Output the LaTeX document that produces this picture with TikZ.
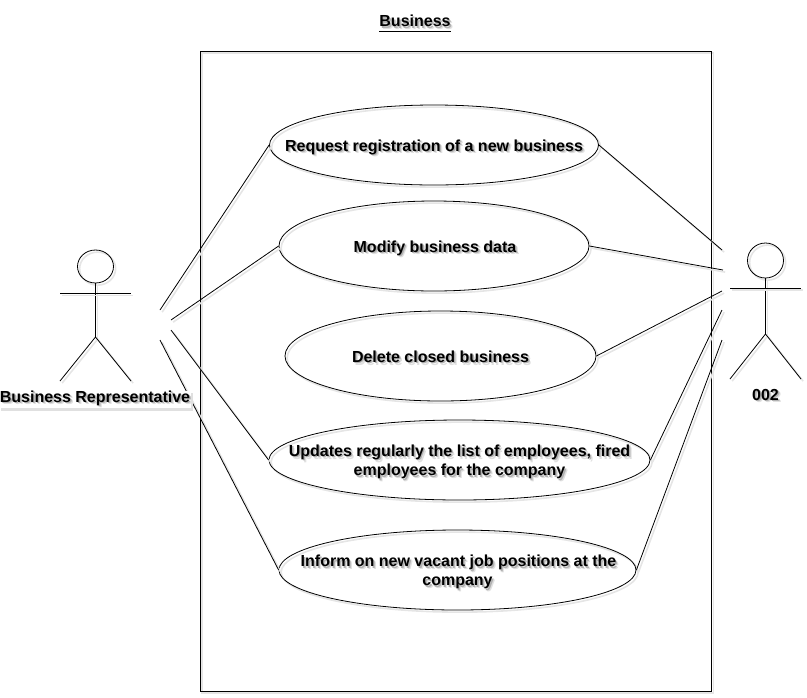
\documentclass[tikz,border=0pt]{standalone}
\usepackage{fontspec}
\setmainfont{Liberation Sans}
\usepackage{xcolor}
\usetikzlibrary{shapes.geometric}

\newcommand{\shtext}[1]{\rlap{\kern2pt\raisebox{-2pt}{\color{black!12}#1}}\rlap{\kern1.1pt\raisebox{-1.1pt}{\color{black!30}#1}}#1}
\newcommand{\ucbox}[1]{\makebox[0pt]{\raisebox{-4.9pt}[0pt][0pt]{\begin{tabular}{@{}c@{}}#1\end{tabular}}}}

\tikzset{
  shline/.style={black,line width=.6pt,preaction={draw=black!10,line width=1.2pt,transform canvas={shift={(1.6pt,-1.6pt)}}}},
  usecase/.style={ellipse,draw,shline,inner sep=0pt,font=\fontsize{12}{14.25}\selectfont\bfseries},
  label/.style={font=\fontsize{12}{14.25}\selectfont\bfseries,inner sep=0pt},
  labelbox/.style={label,fill=white,inner xsep=.5pt,inner ysep=0pt,preaction={fill=black!12,transform canvas={shift={(1.5pt,-1.8pt)}}}},
}

\begin{document}
\begin{tikzpicture}[x=.75pt,y=-.75pt]
    \useasboundingbox (0,0) rectangle (807,697);

    \node[label] (title) at (415,23.5) {\underline{\shtext{Business}}};
    \draw[shline] (200,51) rectangle (711.5,691);

    \node[usecase,minimum width=329pt*.75,minimum height=80pt*.75] (request) at (434,145) {\ucbox{\shtext{Request registration of a new business}}};
    \node[usecase,minimum width=310pt*.75,minimum height=90pt*.75] (modify) at (434,246) {\ucbox{\hspace{1.5pt}\shtext{Modify business data}}};
    \node[usecase,minimum width=311pt*.75,minimum height=90pt*.75] (delete) at (440.5,356) {\ucbox{\shtext{Delete closed business}}};
    \node[usecase,minimum width=381pt*.75,minimum height=80pt*.75] (updates) at (459.5,460) {\ucbox{\shtext{Updates regularly the list of employees, fired}\\\shtext{employees for the company}}};
    \node[usecase,minimum width=357pt*.75,minimum height=80pt*.75] (inform) at (457.5,570) {\ucbox{\hspace{1.5pt}\shtext{Inform on new vacant job positions at the}\\\shtext{company}}};

    % left actor
    \node[draw,shline,ellipse,minimum width=36pt*.75,minimum height=33pt*.75,inner sep=0pt] (headL) at (95.5,266.5) {};
    \coordinate (armLa) at (60,293.5);
    \coordinate (armLb) at (131,293.5);
    \coordinate (hipL) at (95.5,337);
    \coordinate (footLa) at (60,381);
    \coordinate (footLb) at (131,381);
    \draw[shline] (headL.south) -- (hipL);
    \draw[shline] (armLa) -- (armLb);
    \draw[shline] (footLa) -- (hipL) -- (footLb);

    % right actor
    \node[draw,shline,ellipse,minimum width=36pt*.75,minimum height=35pt*.75,inner sep=0pt] (headR) at (765.5,260.5) {};
    \coordinate (armRa) at (730,288);
    \coordinate (armRb) at (801,288);
    \coordinate (hipR) at (765.5,334);
    \coordinate (footRa) at (730,379);
    \coordinate (footRb) at (801,379);
    \draw[shline] (headR.south) -- (hipR);
    \draw[shline] (armRa) -- (armRb);
    \draw[shline] (footRa) -- (hipR) -- (footRb);
    \node[label] (sys) at (765.5,396) {\shtext{002}};

    % free ends beside the actors
    \coordinate (la) at (160,310);
    \coordinate (lb) at (171,320);
    \coordinate (lc) at (171,330);
    \coordinate (ld) at (160,340);
    \coordinate (ra) at (722,250);
    \coordinate (rb) at (723,270);
    \coordinate (rc) at (722,291);
    \coordinate (rd) at (722,310);
    \coordinate (re) at (722,340);

    \draw[shline] (la) -- (request.west);
    \draw[shline] (lb) -- (modify.west);
    \draw[shline] (lc) -- (updates.west);
    \draw[shline] (ld) -- (inform.west);
    \draw[shline] (request.east) -- (ra);
    \draw[shline] (modify.east) -- (rb);
    \draw[shline] (delete.east) -- (rc);
    \draw[shline] (updates.east) -- (rd);
    \draw[shline] (inform.east) -- (re);

    % label box lies over the last connector
    \node[labelbox] (repr) at (95,399.5) {\shtext{Business Representative}};
  \end{tikzpicture}
\end{document}
